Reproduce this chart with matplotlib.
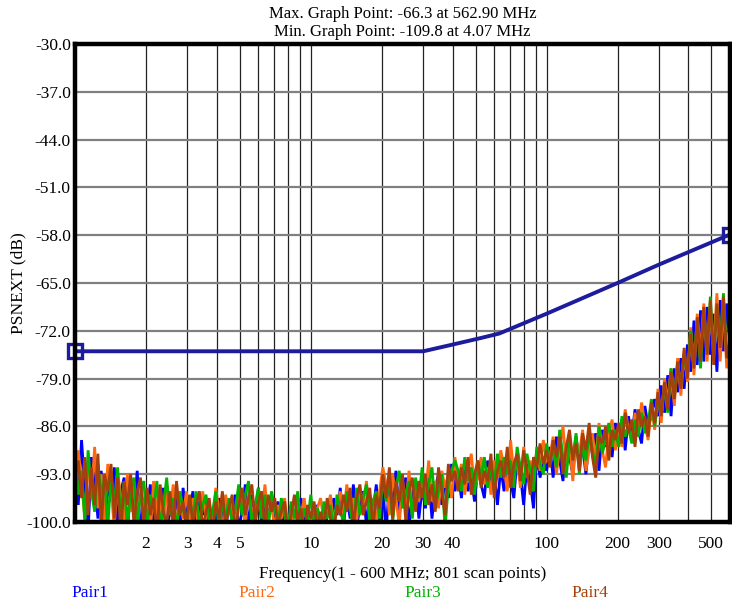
import numpy as np
import matplotlib
matplotlib.use("Agg")
import matplotlib.pyplot as plt
from matplotlib.ticker import FixedLocator, NullFormatter, FixedFormatter

plt.rcParams['font.family'] = ['Liberation Serif', 'DejaVu Serif']

title_lines = ["Max. Graph Point: -66.3 at 562.90 MHz", "Min. Graph Point: -109.8 at 4.07 MHz"]
x_label = "Frequency(1 - 600 MHz; 801 scan points)"
y_label = "PSNEXT (dB)"
series_names = ["Pair1", "Pair2", "Pair3", "Pair4"]
series_colors = ["#0000ff", "#ff6a10", "#00b400", "#a5400c"]
limit_color = "#1c1c9c"

y_ticks = [-30.0, -37.0, -44.0, -51.0, -58.0, -65.0, -72.0, -79.0, -86.0, -93.0, -100.0]
x_tick_values = [2, 3, 4, 5, 10, 20, 30, 40, 100, 200, 300, 500]
x_tick_labels = ["2", "3", "4", "5", "10", "20", "30", "40", "100", "200", "300", "500"]
x_grid_values = [2, 3, 4, 5, 6, 7, 8, 9, 10, 20, 30, 40, 50, 60, 70, 80, 90,
                 100, 200, 300, 400, 500]

limit_freq = [1, 30, 39, 52, 63, 100, 200, 300, 600]
limit_db = [-75.0, -75.0, -74.1, -73.1, -72.4, -69.5, -65.0, -62.3, -57.9]

pair1 = [
 -92.0, -97.5, -88.0, -95.0, -101.5, -90.5, -94.0, -99.5, -92.5, -102.0, -94.5,
 -97.0, -92.0, -100.5, -95.5, -93.5, -101.5, -94.5, -98.0, -92.5, -102.0, -96.5,
 -98.0, -94.5, -101.0, -97.0, -99.5, -95.0, -102.5, -97.5, -100.0, -96.0, -101.5, -95.0, -99.0,
 -98.5, -95.5, -101.5, -97.0, -99.0, -96.5, -102.0, -98.0, -100.5, -96.5, -99.0, -101.5, -97.0, -98.5, -96.0, -101.0,
 -98.5, -94.5, -101.0, -96.0, -99.0, -95.0, -100.5, -97.0, -99.5, -96.5,
 -99.0, -97.0, -101.5, -98.0, -100.0, -97.5, -102.0, -99.0, -96.5, -100.5, -98.5, -101.0,
 -99.5, -97.5, -102.0, -98.0, -100.0, -101.5, -96.5, -99.0, -95.0, -100.5,
 -96.0, -99.5, -94.5, -101.0, -97.5, -95.5, -100.5, -96.0, -98.5, -94.5, -102.0, -95.0,
 -101.5, -94.0, -97.5, -92.5, -99.0, -95.5, -93.5, -100.5, -96.0, -94.0, -99.5, -95.0,
 -98.0, -93.5, -99.5, -95.0, -93.0, -97.5, -94.0, -96.5, -91.5, -95.5,
 -93.0, -96.5, -91.5, -95.5, -93.5, -97.0, -92.0, -94.5, -96.5, -91.0, -95.0, -93.0, -97.5, -92.0,
 -95.5, -91.0, -94.0, -96.5, -90.5, -93.0, -97.5, -91.5, -94.0, -98.0, -90.0, -93.5, -91.0, -92.5,
 -89.0, -93.5, -87.5, -91.0, -94.0, -88.5, -90.5, -93.0, -87.5, -91.5, -89.0, -93.0, -88.0, -90.0, -87.0, -92.5, -86.5, -89.0, -87.5, -90.5, -85.5,
 -88.0, -85.0, -89.5, -84.5, -87.5, -83.5, -86.5, -88.5, -83.0, -86.0, -84.5, -82.0, -84.5,
 -80.0, -84.0, -78.5, -84.5, -77.5, -81.0, -76.0, -80.5, -74.0, -78.0,
 -70.5, -77.0, -69.0, -76.5, -68.5, -75.5, -69.5, -78.0, -67.5, -75.0, -68.0, -74.5,
]

pair2 = [
 -96.0, -89.5, -94.0, -99.5, -91.0, -96.5, -89.0, -98.0, -93.0, -100.5, -91.5,
 -95.0, -101.0, -92.5, -96.5, -100.0, -93.0, -98.5, -94.0, -101.5, -94.5, -98.0,
 -96.5, -101.5, -94.0, -99.0, -96.0, -102.0, -95.0, -98.5, -94.5, -101.0, -96.5, -99.5, -95.5,
 -100.0, -96.5, -98.0, -102.0, -95.5, -99.5, -97.0, -100.5, -95.0, -98.5, -101.5, -96.0, -99.0, -97.5, -102.0, -95.5,
 -97.0, -100.5, -95.5, -98.5, -101.0, -96.0, -99.0, -94.5, -100.0, -97.5,
 -101.0, -97.5, -99.5, -96.5, -100.5, -98.0, -101.5, -97.0, -99.0, -96.5, -101.0, -98.5,
 -101.5, -98.0, -96.5, -100.0, -98.5, -96.0, -100.5, -98.0, -95.5, -99.0,
 -94.5, -98.0, -96.5, -100.0, -95.0, -97.5, -94.0, -99.5, -96.5, -100.5, -95.5, -92.0,
 -94.5, -99.0, -93.0, -96.5, -100.5, -94.0, -97.5, -92.5, -99.0, -95.0, -97.0, -93.0,
 -96.0, -91.0, -97.0, -94.0, -98.0, -92.5, -95.0, -93.0, -96.5, -90.5,
 -94.0, -91.5, -96.0, -92.5, -90.0, -95.0, -93.5, -90.5, -94.5, -92.0, -96.0, -91.0, -93.5, -89.5,
 -92.0, -95.5, -88.0, -93.0, -91.0, -95.0, -89.0, -93.5, -91.0, -94.5, -89.5, -92.5, -88.0, -91.0,
 -90.5, -87.5, -93.0, -89.0, -86.0, -91.5, -88.5, -94.0, -88.0, -90.0, -86.5, -92.5, -89.5, -87.0, -91.0, -85.5, -89.5, -92.0, -87.0, -85.0, -89.5,
 -86.0, -89.0, -83.5, -86.5, -88.0, -84.0, -87.0, -82.5, -85.5, -88.0, -83.0, -86.5, -80.5,
 -85.5, -79.0, -82.5, -77.5, -83.0, -76.0, -81.5, -75.0, -79.5, -71.5,
 -78.5, -69.5, -75.5, -68.0, -76.5, -68.5, -74.5, -66.5, -76.5, -68.0, -77.5, -73.0,
]

pair3 = [
 -90.0, -96.0, -92.5, -100.0, -89.5, -95.5, -98.5, -91.5, -96.0, -93.5, -101.0,
 -93.0, -97.5, -92.0, -99.5, -94.0, -101.0, -95.5, -93.5, -100.0, -96.0, -94.0,
 -100.5, -96.0, -98.0, -94.0, -101.0, -97.5, -93.5, -99.0, -96.5, -101.5, -95.5, -98.0, -100.5,
 -96.5, -99.5, -95.5, -101.0, -97.5, -96.0, -100.0, -98.5, -95.5, -101.5, -97.0, -99.5, -96.5, -100.5, -98.0, -94.5,
 -99.0, -96.0, -94.0, -100.5, -97.5, -95.0, -99.5, -96.0, -101.0, -95.5,
 -98.0, -100.5, -96.5, -99.0, -101.5, -97.0, -99.5, -95.5, -101.0, -98.0, -100.0, -96.0,
 -100.5, -98.0, -101.0, -97.0, -99.5, -97.5, -101.5, -96.0, -98.5, -100.0,
 -95.5, -98.0, -101.0, -95.0, -99.0, -96.5, -94.5, -100.0, -97.0, -95.5, -99.5, -93.5,
 -97.0, -93.5, -100.0, -95.0, -92.5, -98.0, -96.0, -94.0, -99.5, -93.5, -96.5, -92.0,
 -97.5, -94.5, -92.0, -98.0, -95.5, -93.0, -101.0, -94.5, -92.5, -91.0,
 -92.5, -95.5, -90.5, -94.0, -92.0, -96.0, -91.0, -93.5, -90.5, -95.0, -92.0, -94.5, -90.0, -93.5,
 -90.5, -93.0, -91.0, -95.0, -89.0, -92.0, -94.5, -90.0, -92.5, -95.5, -89.0, -91.5, -93.0, -88.5,
 -91.5, -89.0, -92.0, -86.5, -90.5, -93.5, -88.0, -90.5, -87.0, -93.0, -88.5, -91.0, -87.0, -89.5, -92.0, -86.0, -90.0, -88.0, -85.5, -89.0, -86.5,
 -89.0, -84.5, -87.5, -86.0, -88.5, -85.0, -87.5, -84.0, -87.0, -85.5, -82.0, -86.0, -82.5,
 -83.0, -80.5, -84.0, -77.5, -81.5, -77.0, -80.0, -75.5, -78.5, -72.0,
 -76.5, -70.5, -77.5, -69.0, -75.0, -67.0, -76.0, -68.5, -73.5, -66.5, -75.5, -75.5,
]

pair4 = [
 -93.5, -91.0, -96.5, -90.5, -99.0, -92.0, -97.5, -90.0, -101.0, -93.0, -95.5,
 -91.5, -99.5, -93.5, -102.0, -94.0, -97.5, -93.0, -100.5, -95.5, -93.5, -101.0,
 -95.0, -99.0, -96.5, -102.0, -94.5, -98.5, -100.5, -95.5, -101.5, -94.0, -99.0, -97.0, -101.0,
 -96.0, -100.5, -97.5, -95.5, -101.0, -98.5, -96.5, -102.0, -97.0, -99.5, -95.5, -100.5, -98.0, -96.0, -101.5, -97.5,
 -95.0, -99.0, -96.5, -94.5, -100.0, -97.0, -95.5, -101.0, -96.0, -98.5,
 -96.5, -100.5, -98.5, -97.0, -101.5, -99.0, -96.0, -100.0, -98.0, -102.0, -97.5, -99.5,
 -97.0, -101.0, -98.5, -100.5, -96.5, -99.5, -101.5, -97.5, -99.0, -96.0,
 -98.5, -95.0, -100.5, -96.5, -94.5, -99.0, -97.0, -95.0, -101.0, -96.0, -98.0, -93.0,
 -96.5, -92.0, -99.5, -94.0, -97.0, -93.0, -100.0, -95.5, -93.5, -98.5, -94.0, -96.5,
 -93.0, -97.5, -94.5, -98.5, -92.0, -95.5, -99.0, -91.5, -94.0, -92.5,
 -95.5, -92.0, -94.5, -90.5, -96.0, -93.0, -91.0, -95.0, -92.5, -94.0, -90.0, -96.5, -92.5, -91.0,
 -93.5, -89.0, -95.0, -91.5, -90.0, -94.0, -89.5, -92.5, -96.0, -90.5, -92.0, -88.5, -91.5, -89.5,
 -92.0, -88.0, -90.5, -87.5, -93.0, -89.0, -86.5, -91.0, -88.5, -92.5, -87.0, -89.5, -85.5, -90.5, -93.5, -87.5, -88.5, -86.0, -91.0, -86.5, -88.0,
 -85.5, -88.5, -84.0, -87.0, -85.0, -89.0, -83.5, -86.0, -84.5, -87.5, -82.5, -85.5, -81.0,
 -84.5, -79.5, -83.5, -78.0, -82.0, -76.5, -80.5, -74.5, -79.0, -72.5,
 -77.5, -70.0, -76.5, -68.5, -75.5, -67.5, -77.0, -68.0, -74.5, -67.0, -76.0, -73.5,
]

W, H = 732, 606
fig = plt.figure(figsize=(W / 100, H / 100), dpi=100)
ax = fig.add_axes([75 / W, 1 - 522 / H, (730 - 75) / W, (522 - 44) / H])

for vals, col, name in zip([pair1, pair2, pair3, pair4], series_colors, series_names):
    freq = np.geomspace(1, 600, len(vals))
    ax.plot(freq, vals, color=col, lw=2.0, solid_joinstyle='miter', label=name, zorder=3)

ax.plot(limit_freq, limit_db, color=limit_color, lw=2.8, marker='s', markevery=[0, len(limit_freq) - 1],
        markersize=10.5, markerfacecolor='none', markeredgewidth=2.4, markeredgecolor=limit_color,
        zorder=5, clip_on=False)

ax.set_xscale('log')
ax.set_xlim(1, 600)
ax.set_ylim(-100, -30)

ax.xaxis.set_major_locator(FixedLocator(x_tick_values))
ax.xaxis.set_major_formatter(FixedFormatter(x_tick_labels))
ax.xaxis.set_minor_locator(FixedLocator(x_grid_values))
ax.xaxis.set_minor_formatter(NullFormatter())
ax.set_yticks(y_ticks)
ax.set_yticklabels([f"{v:.1f}" for v in y_ticks])

ax.grid(True, which='both', axis='x', color='#222222', lw=0.9, zorder=1)
ax.grid(True, which='major', axis='y', color='#808080', lw=1.6, zorder=1)
ax.tick_params(axis='both', which='both', length=0, labelsize=12.5)
ax.tick_params(axis='x', pad=10)
ax.tick_params(axis='y', pad=3)

for s in ax.spines.values():
    s.set_linewidth(3.2)
    s.set_color('black')
    s.set_zorder(6)

ax.set_ylabel(y_label, fontsize=12.5)
ax.yaxis.set_label_coords(-49 / (730 - 75), 0.5)

cx = (75 + 730) / 2 / W
fig.text(cx, 1 - 14 / H, title_lines[0], ha='center', va='center', fontsize=12)
fig.text(cx, 1 - 32 / H, title_lines[1], ha='center', va='center', fontsize=12)
fig.text(cx, 1 - 574 / H, x_label, ha='center', va='center', fontsize=12.3)

legend_x = [90, 257, 423, 590]
for name, col, lx in zip(series_names, series_colors, legend_x):
    fig.text(lx / W, 1 - 593 / H, name, ha='center', va='center', fontsize=12.5, color=col)

fig.savefig("out.png", dpi=100)
